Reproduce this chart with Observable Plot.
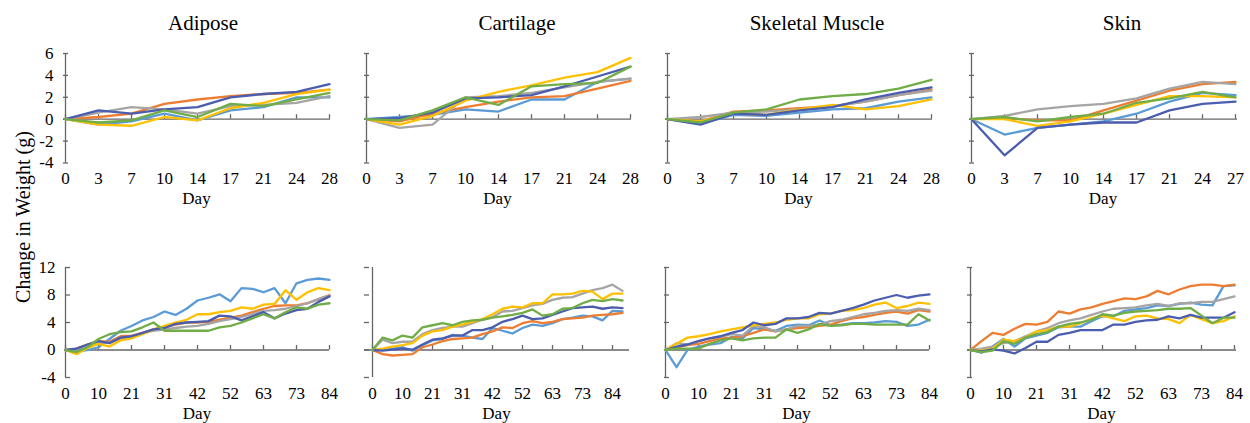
<!DOCTYPE html>
<html><head><meta charset="utf-8">
<script src="https://cdn.jsdelivr.net/npm/d3@7"></script>
<script src="https://cdn.jsdelivr.net/npm/@observablehq/plot@0.6"></script>
<style>
body{margin:0;background:#fff;}
#chart{position:relative;width:1250px;height:423px;font-family:"Liberation Serif","Times New Roman",serif;color:#000;overflow:hidden;}
#chart svg text{font-family:"Liberation Serif","Times New Roman",serif;}
.lbl{position:absolute;white-space:nowrap;transform:translate(-50%,-50%);line-height:1;}
.ttl{font-size:21px;}
.day{font-size:17px;}
.ytitle{font-size:20px;transform:translate(-50%,-50%) rotate(-90deg);}
</style></head><body><div id="chart"></div>
<script>
// ---------- data ----------
const panelTitles = ["Adipose", "Cartilage", "Skeletal Muscle", "Skin"];
const xTitle = "Day";
const yTitle = "Change in Weight (g)";
const seriesNames = ["Series 1", "Series 2", "Series 3", "Series 4", "Series 5", "Series 6"];
const seriesColors = ["#5B9BD5", "#ED7D31", "#A5A5A5", "#FFC000", "#4A5DAE", "#70AD47"];

const shortDays = [0, 3, 7, 10, 14, 17, 21, 24, 28];
const shortDaysSkin = [0, 3, 7, 10, 14, 17, 21, 24, 27];
const longDays = [0, 3, 7, 10, 14, 17, 21, 24, 28, 31, 35, 38, 42, 45, 49, 52, 56, 59, 63, 66, 70, 73, 77, 80, 84];
const longDaysCartilage = [0, 3, 7, 10, 14, 17, 21, 24, 28, 31, 35, 38, 42, 45, 49, 52, 56, 59, 63, 66, 70, 73, 77, 80, 84, 87];
const longTickLabels = [0, 10, 21, 31, 42, 52, 63, 73, 84];
const yTicksShort = [-4, -2, 0, 2, 4, 6];
const yTicksLong = [-4, 0, 4, 8, 12];

// series order: light blue, orange, gray, yellow, dark blue, green
const adiposeShort = [
  [0, -0.5, -0.2, 0.5, -0.1, 0.8, 1.1, 2.0, 2.0],
  [0, 0.2, 0.5, 1.4, 1.8, 2.1, 2.3, 2.4, 2.7],
  [0, 0.6, 1.1, 0.9, 0.5, 1.2, 1.3, 1.5, 2.1],
  [0, -0.5, -0.6, 0.2, -0.1, 1.0, 1.5, 2.3, 2.7],
  [0, 0.8, 0.5, 0.9, 1.1, 2.0, 2.3, 2.5, 3.2],
  [0, -0.3, -0.1, 0.8, 0.2, 1.4, 1.2, 1.8, 2.4]
];
const cartilageShort = [
  [0, 0.2, 0.4, 0.9, 0.7, 1.8, 1.8, 3.4, 3.7],
  [0, -0.2, 0.5, 1.1, 1.6, 2.0, 2.1, 2.8, 3.5],
  [0, -0.8, -0.5, 2.0, 2.1, 2.4, 2.9, 3.4, 3.7],
  [0, -0.5, 0.3, 1.7, 2.5, 3.1, 3.8, 4.3, 5.6],
  [0, 0.1, 0.6, 1.9, 2.0, 2.2, 3.0, 3.9, 4.8],
  [0, -0.1, 0.8, 2.0, 1.3, 3.0, 3.2, 3.3, 4.8]
];
const muscleShort = [
  [0, -0.4, 0.4, 0.3, 0.6, 0.9, 1.0, 1.6, 2.0],
  [0, -0.2, 0.7, 0.8, 1.0, 1.2, 1.6, 2.2, 2.7],
  [0, 0.2, 0.6, 0.7, 0.9, 1.2, 1.6, 2.2, 2.6],
  [0, -0.2, 0.5, 0.4, 0.9, 1.3, 0.9, 1.2, 1.8],
  [0, -0.5, 0.5, 0.4, 0.8, 1.1, 1.8, 2.4, 2.9],
  [0, -0.3, 0.6, 0.9, 1.8, 2.1, 2.3, 2.8, 3.6]
];
const skinShort = [
  [0, -1.4, -0.8, -0.5, -0.2, 0.5, 1.6, 2.4, 2.2],
  [0, 0.1, -0.1, -0.1, 0.8, 1.7, 2.6, 3.2, 3.4],
  [0, 0.3, 0.9, 1.2, 1.4, 1.9, 2.8, 3.4, 3.2],
  [0, 0.0, -0.6, -0.2, 0.5, 1.3, 2.1, 2.1, 2.0],
  [0, -3.3, -0.8, -0.5, -0.3, -0.3, 0.8, 1.4, 1.6],
  [0, 0.2, -0.2, 0.2, 0.5, 1.5, 1.9, 2.5, 2.0]
];
const adiposeLong = [
  [0, -0.2, 0, 0.4, 1.6, 2.8, 3.5, 4.3, 4.8, 5.6, 5.1, 6.0, 7.2, 7.6, 8.1, 7.1, 9.0, 8.9, 8.4, 9.0, 6.8, 9.7, 10.2, 10.4, 10.2],
  [0, 0.2, 0.8, 1.3, 1.2, 2.0, 2.1, 2.5, 3.0, 3.3, 3.7, 4.0, 4.0, 4.1, 4.4, 4.7, 5.0, 5.5, 6.0, 6.4, 6.5, 6.5, 6.8, 7.4, 8.0],
  [0, 0.1, 0.5, 1.0, 1.1, 1.6, 2.0, 2.4, 2.8, 3.0, 3.2, 3.4, 3.5, 3.8, 4.2, 4.5, 4.8, 5.2, 5.7, 5.8, 6.0, 6.4, 6.8, 7.4, 7.9],
  [0, -0.6, 0.3, 0.9, 0.5, 1.4, 1.7, 2.3, 3.0, 3.5, 4.0, 4.4, 5.2, 5.2, 5.5, 5.7, 6.2, 6.0, 6.6, 6.7, 8.7, 7.3, 8.4, 9.0, 8.7],
  [0, 0.2, 0.8, 1.3, 1.0, 1.8, 2.0, 2.5, 3.0, 3.2, 3.8, 4.0, 4.1, 4.2, 5.0, 4.9, 4.3, 4.9, 5.5, 4.6, 5.3, 5.8, 6.0, 7.0, 7.8],
  [0, -0.3, 0.4, 1.6, 2.3, 2.6, 2.7, 3.3, 4.0, 2.8, 2.8, 2.8, 2.8, 2.8, 3.3, 3.5, 4.0, 4.6, 5.2, 4.6, 5.5, 6.2, 6.0, 6.6, 6.8]
];
const cartilageLong = [
  [0, 0.05, 0.2, 0.4, -0.1, 0.7, 1.4, 1.6, 2.2, 2.1, 1.8, 1.6, 3.2, 2.8, 2.4, 3.2, 3.7, 3.5, 3.9, 4.5, 4.7, 5.0, 4.9, 4.3, 5.7, 5.6],
  [0, -0.6, -0.8, -0.7, -0.6, 0.4, 0.8, 1.3, 1.6, 1.7, 1.8, 2.3, 2.7, 3.3, 3.2, 3.9, 4.2, 3.9, 4.1, 4.5, 4.6, 4.7, 5.0, 5.1, 5.2, 5.4],
  [0, 1.5, 1.0, 1.2, 1.2, 2.3, 2.9, 3.2, 3.4, 3.4, 3.9, 4.4, 4.8, 5.6, 5.7, 6.1, 6.5, 6.7, 7.3, 7.6, 7.7, 8.2, 8.7, 9.0, 9.5, 8.6],
  [0, 0.2, 0.5, 0.7, 1.0, 2.1, 2.7, 2.9, 3.4, 3.7, 4.1, 4.5, 5.2, 6.0, 6.3, 6.2, 6.8, 6.8, 8.1, 8.1, 8.2, 8.6, 8.5, 7.4, 8.2, 8.2],
  [0, -0.1, 0.05, 0.2, 0.05, 0.8, 1.5, 1.7, 2.1, 2.1, 2.9, 2.9, 3.3, 4.1, 4.5, 5.0, 4.5, 4.6, 5.1, 5.6, 6.1, 6.2, 6.3, 6.0, 6.2, 6.1],
  [0, 1.8, 1.4, 2.1, 1.8, 3.3, 3.6, 3.9, 3.6, 4.1, 4.3, 4.4, 4.7, 4.9, 5.1, 5.4, 5.9, 5.0, 5.2, 6.0, 6.1, 6.8, 7.3, 7.1, 7.4, 7.2]
];
const muscleLong = [
  [0, -2.5, 0, 0.5, 0.8, 1.0, 1.9, 1.7, 3.2, 3.0, 2.8, 3.5, 3.7, 3.6, 4.3, 3.6, 3.7, 3.9, 3.9, 4.0, 4.2, 4.1, 3.5, 3.7, 4.4],
  [0, 0.4, 0.7, 0.9, 1.3, 1.7, 1.8, 2.0, 2.5, 3.0, 2.7, 3.0, 3.2, 3.3, 3.5, 3.7, 4.2, 4.6, 4.8, 5.1, 5.4, 5.6, 5.3, 5.8, 5.6],
  [0, 1.0, 0.8, 1.3, 1.7, 1.9, 2.3, 2.1, 3.5, 3.3, 2.7, 3.0, 3.5, 3.5, 3.7, 4.2, 4.4, 4.8, 5.2, 5.4, 5.7, 5.8, 5.7, 6.0, 5.8],
  [0, 0.9, 1.8, 2.0, 2.3, 2.7, 3.0, 3.3, 3.6, 3.8, 4.0, 4.4, 4.6, 4.6, 5.2, 5.3, 5.7, 5.8, 6.1, 6.6, 6.9, 6.1, 6.4, 6.9, 6.7],
  [0, 0.5, 0.8, 1.3, 1.7, 2.0, 2.5, 2.9, 4.0, 3.6, 3.8, 4.6, 4.6, 4.8, 5.4, 5.3, 5.7, 6.1, 6.6, 7.2, 7.6, 8.0, 7.6, 7.9, 8.1],
  [0, 0.2, 0.2, 0.2, 0.9, 1.4, 1.7, 1.4, 1.7, 1.8, 1.8, 3.0, 2.5, 3.0, 3.8, 3.5, 3.6, 3.8, 3.8, 3.7, 3.7, 3.7, 3.7, 5.2, 4.3]
];
const skinLong = [
  [0, -0.4, 0.5, 1.6, 0.5, 1.7, 2.1, 2.5, 3.3, 3.4, 3.4, 4.2, 4.9, 4.9, 5.7, 5.9, 6.1, 6.5, 6.4, 6.7, 6.9, 6.6, 6.5, 9.3, 9.4],
  [0, 1.3, 2.5, 2.2, 3.1, 3.8, 3.7, 4.1, 5.6, 5.3, 5.9, 6.2, 6.7, 7.1, 7.5, 7.4, 7.8, 8.6, 8.1, 8.8, 9.3, 9.5, 9.5, 9.3, 9.5],
  [0, 0.2, 0.5, 1.0, 1.3, 2.0, 2.7, 3.2, 3.9, 4.3, 4.6, 5.1, 5.6, 6.0, 6.1, 6.2, 6.5, 6.7, 6.4, 6.8, 6.8, 7.0, 7.0, 7.4, 7.8],
  [0, -0.1, 0.2, 1.5, 1.3, 1.8, 2.7, 2.9, 3.4, 3.4, 3.9, 4.6, 5.0, 4.6, 4.2, 4.9, 5.0, 4.6, 4.5, 3.9, 5.1, 4.5, 3.9, 4.2, 4.9],
  [0, -0.2, 0.1, -0.1, -0.5, 0.3, 1.2, 1.2, 2.2, 2.5, 2.9, 2.9, 2.9, 3.7, 3.7, 4.1, 4.3, 4.4, 4.9, 4.6, 5.1, 4.7, 4.7, 4.7, 5.5],
  [0, -0.3, -0.1, 1.3, 0.9, 1.8, 2.3, 2.6, 3.4, 3.8, 4.0, 4.4, 5.2, 5.0, 5.4, 5.6, 5.7, 5.8, 6.0, 6.0, 6.1, 5.0, 3.9, 4.7, 4.7]
];

// ---------- layout ----------
const fontFamily = '"Liberation Serif", "Times New Roman", serif';
const axisColor = "#666666";
const topRow = {top: 53, bottom: 162.5, yDomain: [-4, 6], yTicks: yTicksShort};
const bottomRow = {top: 266.7, bottom: 376.7, yDomain: [-4, 12], yTicks: yTicksLong};
const topLeft = [63, 364, 665, 969], topRight = [330, 631, 932, 1237];
const botLeft = [65, 364, 664, 967], botRight = [329, 629, 929, 1236];

const panels = [
  {row: topRow, col: 0, days: shortDays, values: adiposeShort, tickDays: shortDays, labels: shortDays, left: topLeft[0], right: topRight[0]},
  {row: topRow, col: 1, days: shortDays, values: cartilageShort, tickDays: shortDays, labels: shortDays, left: topLeft[1], right: topRight[1]},
  {row: topRow, col: 2, days: shortDays, values: muscleShort, tickDays: shortDays, labels: shortDays, left: topLeft[2], right: topRight[2]},
  {row: topRow, col: 3, days: shortDaysSkin, values: skinShort, tickDays: shortDaysSkin, labels: shortDaysSkin, left: topLeft[3], right: topRight[3]},
  {row: bottomRow, col: 0, days: longDays, values: adiposeLong, tickDays: longTickLabels, labels: longTickLabels, left: botLeft[0], right: botRight[0]},
  {row: bottomRow, col: 1, days: longDaysCartilage, values: cartilageLong, tickDays: longTickLabels, labels: longTickLabels, left: botLeft[1], right: botRight[1]},
  {row: bottomRow, col: 2, days: longDays, values: muscleLong, tickDays: longTickLabels, labels: longTickLabels, left: botLeft[2], right: botRight[2]},
  {row: bottomRow, col: 3, days: longDays, values: skinLong, tickDays: longTickLabels, labels: longTickLabels, left: botLeft[3], right: botRight[3]}
];

const root = document.getElementById("chart");
const mL = 45, mR = 15, mT = 12, mB = 40;

for (const p of panels) {
  const {row} = p;
  const W = p.right - p.left + mL + mR;
  const H = row.bottom - row.top + mT + mB;
  const rows = p.values.flatMap((vals, s) => vals.map((v, i) => ({day: p.days[i], value: v, series: seriesNames[s]})));
  const pxPerUnit = (row.bottom - row.top) / (row.yDomain[1] - row.yDomain[0]);
  const tickLen = 4.5 / pxPerUnit;
  const chart = Plot.plot({
    width: W, height: H,
    marginLeft: mL, marginRight: mR, marginTop: mT, marginBottom: mB,
    style: {fontFamily, fontSize: "17px", color: "#000", background: "transparent", overflow: "visible"},
    x: {type: "point", domain: p.days, padding: 0, label: null},
    y: {domain: row.yDomain, label: null},
    color: {domain: seriesNames, range: seriesColors},
    marks: [
      Plot.ruleX([p.days[0]], {stroke: axisColor, strokeWidth: 1.3}),
      Plot.ruleY([0], {stroke: axisColor, strokeWidth: 1.3}),
      Plot.ruleX(p.tickDays, {y1: 0, y2: tickLen, stroke: axisColor, strokeWidth: 1.3}),
      Plot.axisY(row.yTicks, {tickSize: -5, tickPadding: 15, stroke: axisColor, strokeWidth: 1.3, fill: "#000",
        fontFamily, fontSize: 17, fontVariant: "normal",
        tickFormat: p.col === 0 ? (d => String(d)) : (() => "")}),
      Plot.axisX(p.labels, {tickSize: 0, tickPadding: 9, fill: "#000", fontFamily, fontSize: 17, fontVariant: "normal",
        tickFormat: d => String(d)}),
      Plot.line(rows, {x: "day", y: "value", z: "series", stroke: "series", strokeWidth: 2.3})
    ]
  });
  chart.style.position = "absolute";
  chart.style.left = (p.left - mL) + "px";
  chart.style.top = (row.top - mT) + "px";
  root.appendChild(chart);
}

function addLabel(text, x, y, cls) {
  const d = document.createElement("div");
  d.className = "lbl " + cls;
  d.textContent = text;
  d.style.left = x + "px";
  d.style.top = y + "px";
  root.appendChild(d);
}
const titleX = [203, 517, 817, 1122];
panelTitles.forEach((t, i) => addLabel(t, titleX[i], 23, "ttl"));
for (let i = 0; i < 4; i++) {
  addLabel(xTitle, (topLeft[i] + topRight[i]) / 2, 198, "day");
  addLabel(xTitle, (botLeft[i] + botRight[i]) / 2, 413, "day");
}
addLabel(yTitle, 23, 217, "ytitle");
</script></body></html>
